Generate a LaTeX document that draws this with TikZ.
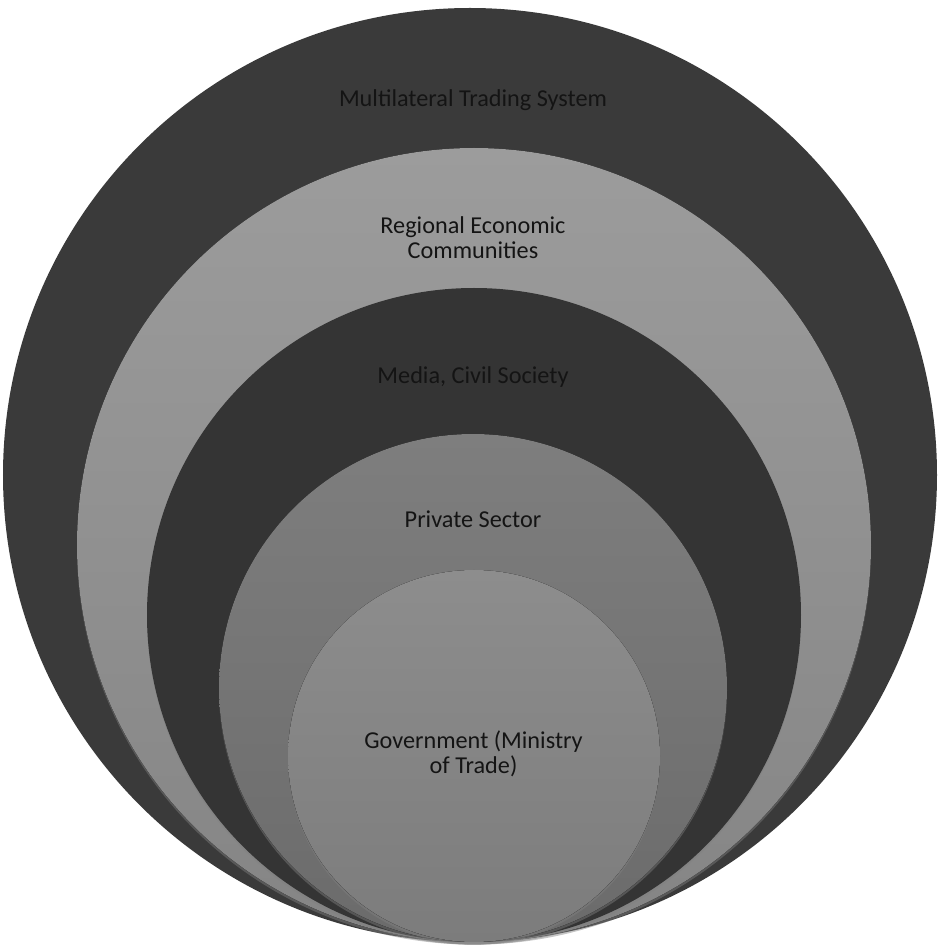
\documentclass[tikz,border=0pt]{standalone}
\usepackage{fontspec}
\setmainfont{Carlito}
\usetikzlibrary{positioning,shadows}

\definecolor{ringdark}{HTML}{3A3A3A}
\definecolor{ringdeep}{HTML}{343434}
\definecolor{ringlight}{HTML}{9C9C9C}
\definecolor{ringmid}{HTML}{7E7E7E}
\definecolor{ringcore}{HTML}{8D8D8D}
\definecolor{labeltext}{HTML}{141414}

\tikzset{
  ringlabel/.style={text=labeltext, align=center, font=\fontsize{13.8pt}{14.2pt}\selectfont},
  ringshadow/.style={drop shadow={shadow xshift=0pt, shadow yshift=-1.5pt, opacity=0.45}}
}

\begin{document}
\begin{tikzpicture}

\useasboundingbox (0,0) rectangle (18.78,18.98);

\fill[ringdark] (9.40,9.48) circle (9.34);
\fill[ringshadow, top color=ringlight, bottom color=ringlight!85!black] (9.48,8.08) circle (7.94);
\fill[ringshadow, ringdeep] (9.48,6.68) circle (6.54);
\fill[ringshadow, top color=ringmid, bottom color=ringmid!85!black] (9.46,5.22) circle (5.08);
\fill[ringshadow, top color=ringcore, bottom color=ringcore!88!black] (9.48,3.86) circle (3.72);

\node[ringlabel] (mts) at (9.46,16.98) {Multilateral Trading System};
\node[ringlabel] (rec) at (9.46,14.23) {Regional Economic\\Communities};
\node[ringlabel] (mcs) at (9.46,11.44) {Media, Civil Society};
\node[ringlabel] (ps) at (9.46,8.60) {Private Sector};
\node[ringlabel] (gov) at (9.47,3.91) {Government (Ministry\\of Trade)};
\end{tikzpicture}
\end{document}
